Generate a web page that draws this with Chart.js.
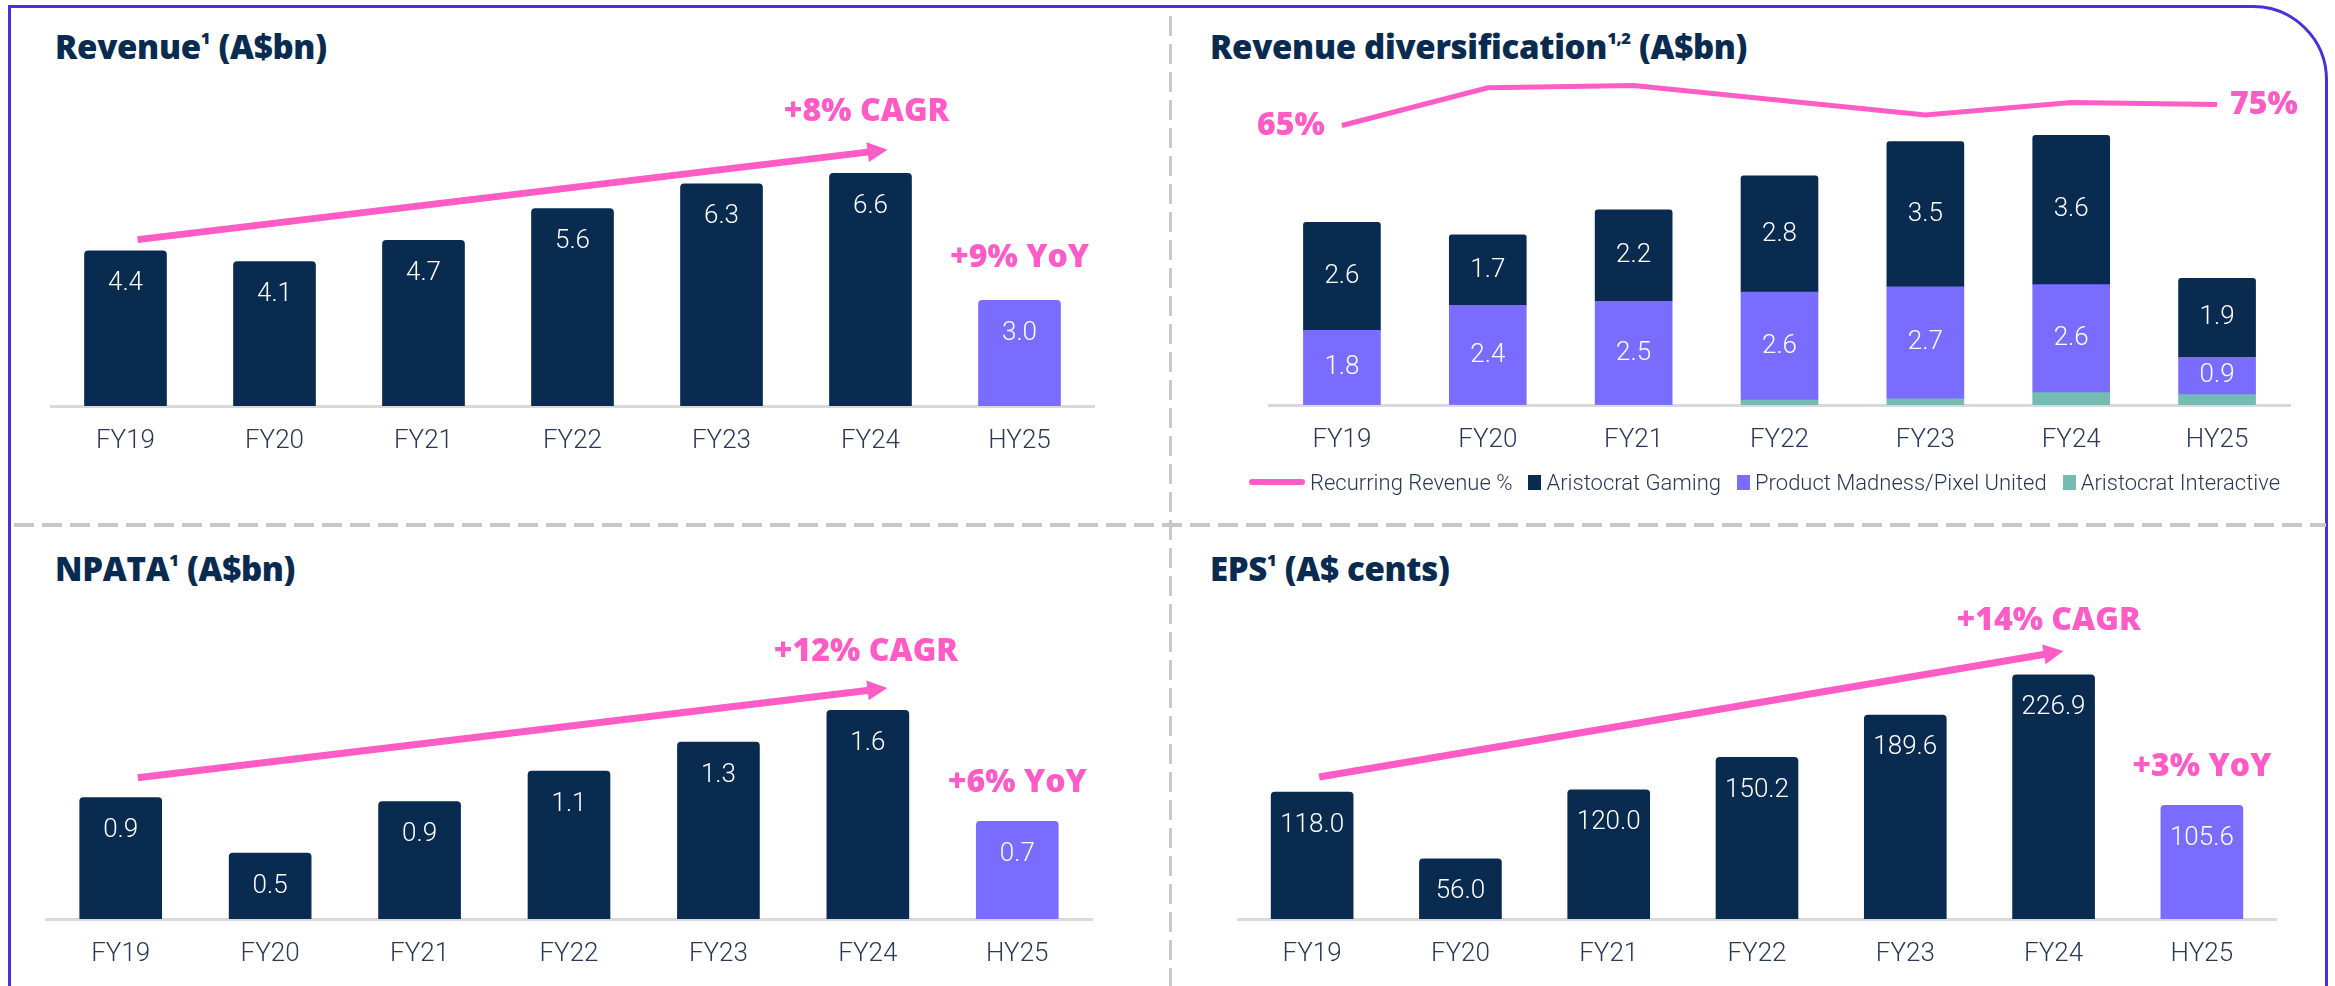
<!DOCTYPE html>
<html>
<head>
<meta charset="utf-8">
<script src="https://cdn.jsdelivr.net/npm/chart.js@4.4.1/dist/chart.umd.min.js"></script>
<style>
  body { margin: 0; width: 2335px; height: 986px; background: #fff; position: relative; overflow: hidden; font-family: Roboto, sans-serif; }
  .frame { position: absolute; left: 8px; top: 5px; width: 2320px; height: 1200px; box-sizing: border-box;
           border: 3px solid #4b2fd9; border-top-right-radius: 75px; }
  .vdash { position: absolute; left: 1169px; top: 16px; width: 3px; height: 980px;
           background: repeating-linear-gradient(to bottom, #c8c8c8 0 20px, transparent 20px 28px); }
  .hdash { position: absolute; left: 14px; top: 523px; width: 2312px; height: 4px;
           background: repeating-linear-gradient(to right, #c8c8c8 0 20px, transparent 20px 28px); }
  .title { position: absolute; font-family: 'Open Sans', sans-serif; font-weight: 800; font-size: 33px;
           line-height: 42px; color: #0a2b50; white-space: nowrap; letter-spacing: -0.3px; }
  .title sup { font-size: 0.5em; vertical-align: 0.9em; line-height: 0; }
  canvas { position: absolute; }
  .legend { position: absolute; left: 1249px; top: 469px; height: 26px; display: flex; align-items: center;
            font-family: Roboto; font-weight: 300; font-size: 22px; color: #2a3856; white-space: nowrap; }
  .legend .sw { display: inline-block; margin-right: 5px; }
  .legend .item { display: flex; align-items: center; margin-right: 16px; }
</style>
</head>
<body>
<div class="frame"></div>
<div class="vdash"></div>
<div class="hdash"></div>

<div class="title" style="left:55px; top:26px;">Revenue<sup>1</sup> (A$bn)</div>
<div class="title" style="left:1210px; top:26px;">Revenue diversification<sup>1,2</sup> (A$bn)</div>
<div class="title" style="left:55px; top:548px;">NPATA<sup>1</sup> (A$bn)</div>
<div class="title" style="left:1210px; top:548px;">EPS<sup>1</sup> (A$ cents)</div>

<canvas id="revenueChart" style="left:0px; top:0px;" width="1170" height="520"></canvas>
<canvas id="diversChart" style="left:1170px; top:0px;" width="1165" height="520"></canvas>
<canvas id="npataChart" style="left:0px; top:520px;" width="1170" height="466"></canvas>
<canvas id="epsChart" style="left:1170px; top:520px;" width="1165" height="466"></canvas>
<div class="legend" id="diversLegend"></div>

<script>
// ---- data ----
const periods = ['FY19', 'FY20', 'FY21', 'FY22', 'FY23', 'FY24', 'HY25'];

const revenue = [4.4, 4.1, 4.7, 5.6, 6.3, 6.6, 3.0];

const gaming = [2.6, 1.7, 2.2, 2.8, 3.5, 3.6, 1.9];
const productMadness = [1.8, 2.4, 2.5, 2.6, 2.7, 2.6, 0.9];
const interactive = [0, 0, 0, 0.12, 0.15, 0.3, 0.25];
const recurringPct = [65, 83, 84, 77, 70, 76, 75];

const npata = [0.92, 0.50, 0.89, 1.12, 1.34, 1.58, 0.74];

const eps = [118.0, 56.0, 120.0, 150.2, 189.6, 226.9, 105.6];

// ---- styles ----
const NAVY = '#0a2b50';
const PURPLE = '#796cff';
const TEAL = '#74bbb4';
const PINK = '#ff5cc6';
const TICK = '#2a3856';
const barColors = periods.map(p => p.startsWith('HY') ? PURPLE : NAVY);

const annotate = {
  id: 'annotate',
  afterDatasetsDraw(chart, args, opts) {
    const ctx = chart.ctx;
    const x = chart.scales.x;
    const px = (at) => x.getPixelForValue(at[0]) + (at[2] || 0);
    const py = (at, axis) => chart.scales[axis || 'y'].getPixelForValue(at[1]);
    ctx.save();
    if (opts.arrow) {
      const a = opts.arrow;
      const x0 = px(a.from), y0 = py(a.from), x1 = px(a.to), y1 = py(a.to);
      const ang = Math.atan2(y1 - y0, x1 - x0);
      const c = Math.cos(ang), s = Math.sin(ang);
      const head = 20, half = 10;
      ctx.strokeStyle = PINK;
      ctx.lineWidth = 7;
      ctx.beginPath();
      ctx.moveTo(x0, y0);
      ctx.lineTo(x1 - head * 0.8 * c, y1 - head * 0.8 * s);
      ctx.stroke();
      ctx.fillStyle = PINK;
      ctx.beginPath();
      ctx.moveTo(x1, y1);
      ctx.lineTo(x1 - head * c + half * s, y1 - head * s - half * c);
      ctx.lineTo(x1 - head * c - half * s, y1 - head * s + half * c);
      ctx.closePath();
      ctx.fill();
    }
    (opts.texts || []).forEach(t => {
      ctx.fillStyle = PINK;
      ctx.font = "800 32px 'Open Sans'";
      ctx.textAlign = t.align || 'center';
      ctx.textBaseline = 'middle';
      ctx.fillText(t.text, px(t.at), py(t.at, t.axis));
    });
    ctx.restore();
  }
};

const barLabels = {
  id: 'barLabels',
  afterDatasetsDraw(chart, args, opts) {
    const ctx = chart.ctx;
    ctx.save();
    ctx.fillStyle = '#ffffff';
    ctx.font = "300 26px Roboto";
    ctx.textAlign = 'center';
    ctx.textBaseline = 'middle';
    chart.data.datasets.forEach((ds, i) => {
      if (!ds.showValues) return;
      chart.getDatasetMeta(i).data.forEach((bar, j) => {
        const yPos = opts.centered ? (bar.y + bar.base) / 2 : bar.y + 33;
        ctx.fillText(ds.data[j].toFixed(1), bar.x, yPos);
      });
    });
    ctx.restore();
  }
};

function xAxis(extra) {
  return Object.assign({
    grid: { display: false, drawTicks: false },
    border: { display: true, color: '#d9d9d9', width: 3 },
    ticks: { color: TICK, padding: 20, font: { family: 'Roboto', size: 26, weight: '300' } },
    afterFit: s => { s.height = 60; }
  }, extra || {});
}

function simpleBar(id, values, yMax, pad, thickness, arrow, texts) {
  return new Chart(document.getElementById(id), {
    type: 'bar',
    data: {
      labels: periods,
      datasets: [{
        data: values,
        backgroundColor: barColors,
        barThickness: thickness,
        borderRadius: { topLeft: 4, topRight: 4 },
        borderSkipped: 'bottom',
        showValues: true
      }]
    },
    options: {
      responsive: false,
      animation: false,
      layout: { padding: pad },
      scales: {
        x: xAxis(),
        y: { display: false, min: 0, max: yMax }
      },
      plugins: {
        legend: { display: false },
        tooltip: { enabled: false },
        annotate: { arrow: arrow, texts: texts }
      }
    },
    plugins: [barLabels, annotate]
  });
}

simpleBar('revenueChart', revenue, 8, { left: 51, right: 76, top: 124, bottom: 54 }, 82,
  { from: [0, 4.72, 12], to: [5, 7.27, 17] },
  [{ text: '+8% CAGR', at: [5, 8.35, -4] }, { text: '+9% YoY', at: [6, 4.2, 0] }]);

simpleBar('npataChart', npata, 2, { left: 46, right: 78, top: 135, bottom: 7 }, 82,
  { from: [0, 1.07, 17], to: [5, 1.75, 19.5] },
  [{ text: '+12% CAGR', at: [5, 2.02, -2] }, { text: '+6% YoY', at: [6, 1.03, 0] }]);

simpleBar('epsChart', eps, 250, { left: 68, right: 59, top: 130, bottom: 7 }, 82,
  { from: [0, 132, 7], to: [5, 249, 10] },
  [{ text: '+14% CAGR', at: [5, 277, -5] }, { text: '+3% YoY', at: [6, 141, 0] }]);

// stacked revenue diversification
const diversDatasets = [
  { type: 'bar', label: 'Aristocrat Interactive', data: interactive, backgroundColor: TEAL, barThickness: 77, stack: 's' },
  { type: 'bar', label: 'Product Madness/Pixel United', data: productMadness, backgroundColor: PURPLE, barThickness: 77, stack: 's', showValues: true },
  { type: 'bar', label: 'Aristocrat Gaming', data: gaming, backgroundColor: NAVY, barThickness: 77, stack: 's', showValues: true,
    borderRadius: { topLeft: 3, topRight: 3 }, borderSkipped: 'bottom' },
  { type: 'line', label: 'Recurring Revenue %', data: recurringPct, borderColor: PINK, backgroundColor: PINK,
    borderWidth: 5, pointRadius: 0, tension: 0, yAxisID: 'y1' }
];

new Chart(document.getElementById('diversChart'), {
  type: 'bar',
  data: { labels: periods, datasets: diversDatasets },
  options: {
    responsive: false,
    animation: false,
    layout: { padding: { left: 99, right: 45, top: 73, bottom: 55 } },
    scales: {
      x: xAxis({ stacked: true }),
      y: { display: false, stacked: true, min: 0, max: 8 },
      y1: { display: false, min: -68, max: 90 }
    },
    plugins: {
      legend: { display: false },
      tooltip: { enabled: false },
      barLabels: { centered: true },
      annotate: {
        texts: [
          { text: recurringPct[0] + '%', at: [0, recurringPct[0], -17], axis: 'y1', align: 'right' },
          { text: recurringPct[6] + '%', at: [6, recurringPct[6], 13], axis: 'y1', align: 'left' }
        ]
      }
    }
  },
  plugins: [barLabels, annotate]
});

// legend, in the reference order
const legendOrder = [3, 2, 1, 0];
const legendEl = document.getElementById('diversLegend');
legendOrder.forEach(i => {
  const ds = diversDatasets[i];
  const item = document.createElement('span');
  item.className = 'item';
  const sw = document.createElement('span');
  sw.className = 'sw';
  if (ds.type === 'line') {
    sw.style.cssText = 'width:56px;height:6px;border-radius:3px;background:' + ds.borderColor;
  } else {
    sw.style.cssText = 'width:13px;height:15px;background:' + ds.backgroundColor;
  }
  item.appendChild(sw);
  item.appendChild(document.createTextNode(ds.label));
  legendEl.appendChild(item);
});
</script>
</body>
</html>
